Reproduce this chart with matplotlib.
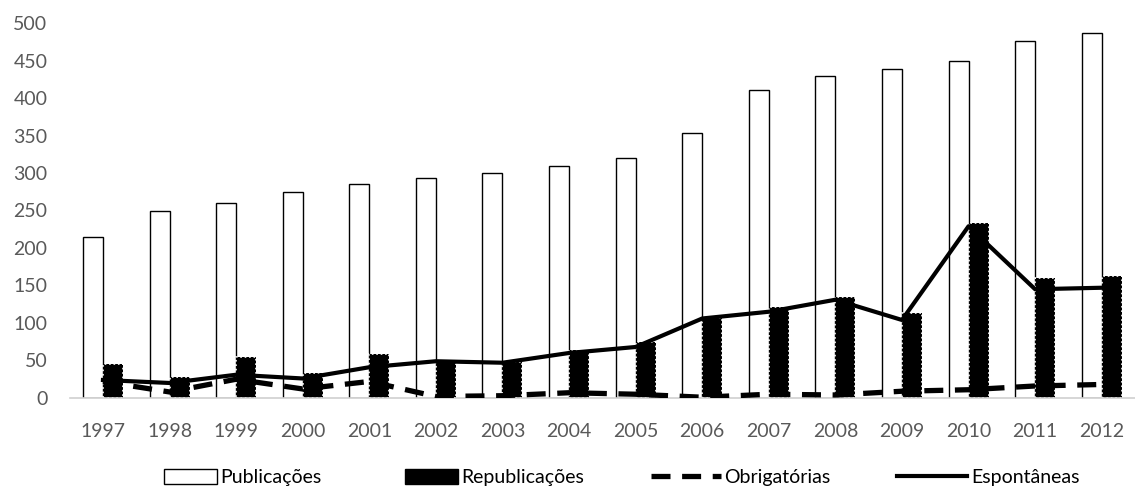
"""Publicações e republicações por ano, 1997-2012."""

import matplotlib

matplotlib.use("Agg")
import matplotlib.pyplot as plt
import numpy as np
from matplotlib.legend_handler import HandlerPatch
from matplotlib.lines import Line2D
from matplotlib.patches import Patch, Rectangle

years = ["1997", "1998", "1999", "2000", "2001", "2002", "2003", "2004",
         "2005", "2006", "2007", "2008", "2009", "2010", "2011", "2012"]
publicacoes = [215, 249, 260, 275, 285, 293, 300, 309, 320, 354, 411, 430, 439, 450, 476, 487]
republicacoes = [45, 28, 55, 33, 59, 51, 48, 64, 74, 107, 121, 135, 113, 233, 160, 163]
obrigatorias = [22, 8, 25, 12, 22, 2, 3, 7, 5, 1, 5, 4, 9, 11, 16, 18]
espontaneas = [24, 20, 31, 26, 41, 49, 47, 60, 68, 106, 115, 131, 104, 229, 145, 147]

plt.rcParams["font.family"] = ["Lato", "DejaVu Sans"]

x = np.arange(len(years))
width = 0.3


class NarrowBox(HandlerPatch):
    # legend boxes in the original are shorter than the line handles
    def create_artists(self, legend, orig_handle, xdescent, ydescent, width,
                       height, fontsize, trans):
        w = width * 0.75
        box = Rectangle((width - w - xdescent, -ydescent - height * 0.1), w, height * 1.1)
        self.update_prop(box, orig_handle, legend)
        box.set_transform(trans)
        return [box]


fig = plt.figure(figsize=(11.35, 4.95), dpi=100)
ax = fig.add_axes([0.0614, 0.196, 0.9386, 0.7575])

ax.bar(x - width / 2, publicacoes, width, color="white", edgecolor="black",
       linewidth=1.0, zorder=2)
ax.bar(x + width / 2, republicacoes, width, color="black", edgecolor="white",
       linewidth=1.2, linestyle=":", zorder=2)
ax.plot(x, obrigatorias, color="black", linewidth=3.8, linestyle=(0, (3.6, 2.2)),
        zorder=3)
ax.plot(x, espontaneas, color="black", linewidth=3.0, zorder=3)

ax.set_xlim(-0.5, len(years) - 0.5)
ax.set_ylim(0, 500)
ax.set_yticks(range(0, 501, 50))
ax.set_xticks(x)
ax.set_xticklabels(years)
ax.tick_params(axis="both", length=0, labelsize=14, labelcolor="#595959")
ax.tick_params(axis="x", pad=18)
ax.tick_params(axis="y", pad=16)
for side in ["top", "right", "left"]:
    ax.spines[side].set_visible(False)
ax.spines["bottom"].set_color("#d0d0d0")
ax.spines["bottom"].set_linewidth(1.2)

box_pub = Patch(facecolor="white", edgecolor="black", linewidth=1.0)
box_rep = Patch(facecolor="black", edgecolor="black")
handles = [
    box_pub,
    box_rep,
    Line2D([], [], color="black", linewidth=3.8, linestyle=(0, (3.6, 2.2))),
    Line2D([], [], color="black", linewidth=3.0),
]
labels = ["Publicações", "Republicações", "Obrigatórias", "Espontâneas"]
fig.legend(handles, labels, loc="center", bbox_to_anchor=(0.54, 0.036), ncol=4,
           frameon=False, fontsize=14, handlelength=3.6, handletextpad=0.2,
           columnspacing=3.4,
           handler_map={box_pub: NarrowBox(), box_rep: NarrowBox()})

fig.savefig("out.png", dpi=100)
